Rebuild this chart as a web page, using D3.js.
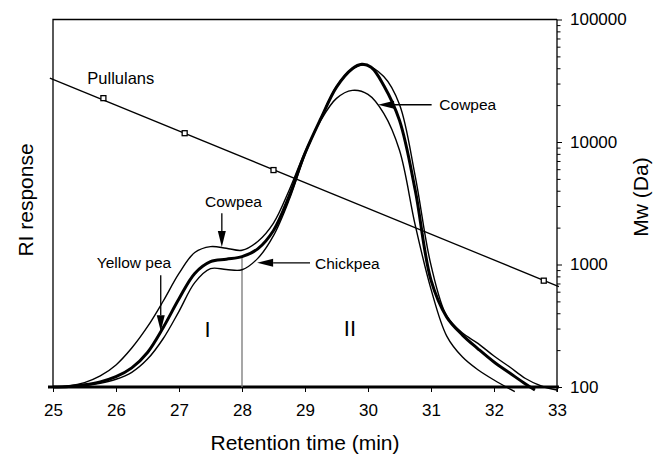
<!DOCTYPE html>
<html>
<head>
<meta charset="utf-8">
<script src="https://cdn.jsdelivr.net/npm/d3@7"></script>
<style>
  body { margin: 0; background: #fff; }
  svg { font-family: "Liberation Sans", Arial, sans-serif; }
</style>
</head>
<body>
<div id="chart"></div>
<script>
// RI traces, [retention time (min), RI response (arbitrary, 0-100)]
const yellowPea = [[25,0],[25.25,0.15],[25.5,0.6],[25.75,1.4],[26,2.8],[26.25,5.2],[26.5,9.4],[26.75,16.2],[27,24.0],[27.25,30.9],[27.5,34.1],[27.75,34.78],[28,35.46],[28.25,37.6],[28.5,42.6],[28.75,52.0],[29,63.6],[29.25,73.0],[29.5,81.6],[29.75,86.6],[29.9,87.8],[30.05,87.0],[30.25,82.07],[30.5,72.55],[30.75,53.53],[31,29.08],[31.25,19.02],[31.5,14.13],[31.75,10.33],[32,6.79],[32.25,3.8],[32.5,0.82],[32.65,-0.82]];
const cowpea = [[25,0],[25.25,0.3],[25.5,1.2],[25.75,3.0],[26,6.0],[26.25,10.6],[26.5,16.4],[26.75,23.4],[27,30.9],[27.25,36.6],[27.5,38.2],[27.75,37.77],[28,37.2],[28.25,39.6],[28.5,44.6],[28.75,53.6],[29,64.0],[29.25,72.55],[29.5,78.53],[29.75,80.71],[30,79.62],[30.25,74.46],[30.5,64.4],[30.75,44.02],[31,26.63],[31.25,13.86],[31.5,8.15],[31.75,4.62],[32,1.9],[32.25,-0.54],[32.33,-1.28]];
const chickpea = [[25,0],[25.25,0.05],[25.5,0.35],[25.75,1.0],[26,2.1],[26.25,4.0],[26.5,7.6],[26.75,13.2],[27,20.6],[27.25,28.4],[27.5,32.2],[27.75,31.98],[28,31.9],[28.25,35.0],[28.5,41.2],[28.75,51.0],[29,63.2],[29.25,73.1],[29.5,81.79],[29.75,86.55],[29.95,87.6],[30.25,84.51],[30.5,76.9],[30.75,57.34],[31,33.15],[31.25,19.29],[31.5,14.67],[31.75,11.82],[32,8.42],[32.25,5.43],[32.5,2.31],[32.75,0.27],[33,-0.82]];

// pullulan standards [time, Mw] and the calibration line ends
const pullulanPoints = [[25.8,22800],[27.09,11800],[28.5,5900],[32.79,738]];
const pullulanFit = [[24.95,33200],[33.03,661]];

const timeTicks = [25,26,27,28,29,30,31,32,33];
const mwMajor = [100,1000,10000,100000];
const fractionCut = 28; // boundary between fraction I and II

const width = 654, height = 454;
const svg = d3.select("#chart").append("svg")
    .attr("width", width)
    .attr("height", height);

const x = d3.scaleLinear().domain([25, 33]).range([53, 557]);
const ri = d3.scaleLinear().domain([0, 100]).range([387, 19.5]);
const mw = d3.scaleLog().domain([100, 100000]).range([387, 19.5]);

// frame: top and left
svg.append("path")
    .attr("d", `M${x(25)},${ri(0)}V${ri(100)}H${x(33)}`)
    .attr("fill", "none")
    .attr("stroke", "#000")
    .attr("stroke-width", 1.3);

// bottom axis
const xAxis = svg.append("g")
    .attr("transform", `translate(0,${ri(0)})`)
    .call(d3.axisBottom(x).tickValues(timeTicks).tickSize(5).tickPadding(12).tickSizeOuter(0));
xAxis.select(".domain").remove();
xAxis.selectAll("line").attr("stroke", "#000").attr("stroke-width", 1);
xAxis.selectAll("text").attr("font-size", 17).attr("fill", "#000").style("font-family", "Liberation Sans, Arial, sans-serif");

// right log axis
const minor = [];
for (let d = 100; d < 100000; d *= 10) for (let k = 2; k <= 9; k++) minor.push(d * k);
const yAxisMinor = svg.append("g")
    .attr("transform", `translate(${x(33)},0)`)
    .call(d3.axisRight(mw).tickValues(minor).tickSize(3.5).tickFormat(""));
yAxisMinor.select(".domain").remove();
const yAxis = svg.append("g")
    .attr("transform", `translate(${x(33)},0)`)
    .call(d3.axisRight(mw).tickValues(mwMajor).tickSize(5).tickPadding(8).tickSizeOuter(0).tickFormat(d3.format("d")));
yAxis.select(".domain").attr("stroke-width", 1.3).attr("d", `M0,${mw(100000)}V${ri(0) + 5}`);
svg.selectAll(".tick line").attr("stroke", "#000");
yAxis.selectAll("text").attr("font-size", 17).attr("fill", "#000").style("font-family", "Liberation Sans, Arial, sans-serif");

// thick baseline
svg.append("line")
    .attr("x1", x(25) - 5).attr("x2", x(33) + 2)
    .attr("y1", ri(0)).attr("y2", ri(0))
    .attr("stroke", "#000").attr("stroke-width", 3);

// fraction divider
const cutY = yellowPea.find(d => d[0] === fractionCut)[1];
svg.append("line")
    .attr("x1", x(fractionCut)).attr("x2", x(fractionCut))
    .attr("y1", ri(0)).attr("y2", ri(cutY))
    .attr("stroke", "#777").attr("stroke-width", 1.3);

// calibration line
svg.append("path")
    .datum(pullulanFit)
    .attr("d", d3.line().x(d => x(d[0])).y(d => mw(d[1])))
    .attr("fill", "none").attr("stroke", "#000").attr("stroke-width", 1.3);
svg.selectAll(".std")
    .data(pullulanPoints)
    .join("rect")
    .attr("class", "std")
    .attr("x", d => x(d[0]) - 2.5).attr("y", d => mw(d[1]) - 2.5)
    .attr("width", 5).attr("height", 5)
    .attr("fill", "#fff").attr("stroke", "#000").attr("stroke-width", 1.3);

// RI traces
const traceLine = d3.line()
    .x(d => x(d[0]))
    .y(d => ri(d[1]))
    .curve(d3.curveCatmullRom.alpha(0.5));
const traces = [
    {data: cowpea, w: 1.4},
    {data: chickpea, w: 1.4},
    {data: yellowPea, w: 3}
];
svg.append("g").selectAll("path")
    .data(traces)
    .join("path")
    .attr("d", d => traceLine(d.data))
    .attr("fill", "none")
    .attr("stroke", "#000")
    .attr("stroke-width", d => d.w)
    .attr("stroke-linejoin", "round");

// arrows (data coordinates: from -> tip)
function arrow(from, to) {
    const x1 = x(from[0]), y1 = ri(from[1]), x2 = x(to[0]), y2 = ri(to[1]);
    const a = Math.atan2(y2 - y1, x2 - x1), len = 16, hw = 4;
    const bx = x2 - len * Math.cos(a), by = y2 - len * Math.sin(a);
    svg.append("line")
        .attr("x1", x1).attr("y1", y1).attr("x2", bx).attr("y2", by)
        .attr("stroke", "#000").attr("stroke-width", 1.3);
    svg.append("path")
        .attr("d", `M${x2},${y2}L${bx - hw * Math.sin(a)},${by + hw * Math.cos(a)}L${bx + hw * Math.sin(a)},${by - hw * Math.cos(a)}Z`)
        .attr("fill", "#000");
}
arrow([27.68, 47.3], [27.68, 38.1]);   // Cowpea (shoulder)
arrow([26.71, 30.4], [26.71, 15.2]);   // Yellow pea
arrow([29.08, 33.8], [28.24, 33.8]);   // Chickpea
arrow([31.01, 76.8], [30.16, 76.8]);   // Cowpea (peak)

// labels
const labels = [
    {t: "Pullulans", x: 25.545, y: 82.53, s: 16.5, a: "start"},
    {t: "Cowpea", x: 27.413, y: 48.99, s: 15.5, a: "start"},
    {t: "Yellow pea", x: 25.694, y: 32.26, s: 15.5, a: "start"},
    {t: "Chickpea", x: 29.159, y: 31.98, s: 15.5, a: "start"},
    {t: "Cowpea", x: 31.132, y: 75.27, s: 15.5, a: "start"},
    {t: "I", x: 27.452, y: 13.67, s: 22, a: "middle"},
    {t: "II", x: 29.714, y: 13.94, s: 22, a: "middle"}
];
svg.selectAll(".lab")
    .data(labels)
    .join("text")
    .attr("class", "lab")
    .attr("x", d => x(d.x)).attr("y", d => ri(d.y))
    .attr("font-size", d => d.s)
    .attr("text-anchor", d => d.a)
    .text(d => d.t);

// axis titles
svg.append("text")
    .attr("x", (x(25) + x(33)) / 2).attr("y", 450)
    .attr("text-anchor", "middle").attr("font-size", 21)
    .text("Retention time (min)");
svg.append("text")
    .attr("transform", "translate(33,200) rotate(-90)")
    .attr("text-anchor", "middle").attr("font-size", 21)
    .text("RI response");
svg.append("text")
    .attr("transform", "translate(648,197) rotate(-90)")
    .attr("text-anchor", "middle").attr("font-size", 21)
    .text("Mw (Da)");
</script>
</body>
</html>
